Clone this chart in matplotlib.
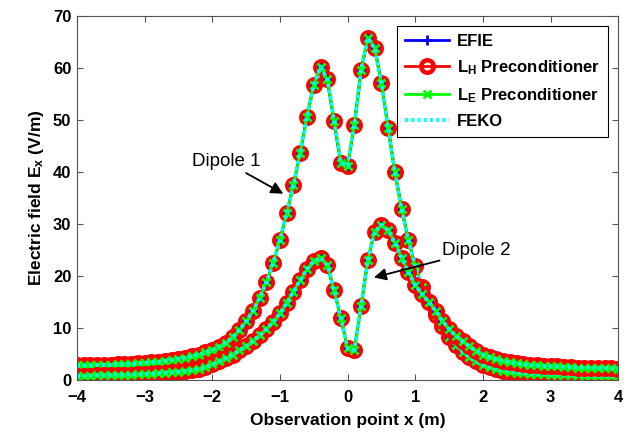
import numpy as np
import matplotlib
matplotlib.use("Agg")
import matplotlib.pyplot as plt

plt.rcParams["font.family"] = ["Liberation Sans", "DejaVu Sans"]
plt.rcParams["mathtext.fontset"] = "custom"
plt.rcParams["mathtext.rm"] = "Liberation Sans:bold"
plt.rcParams["mathtext.it"] = "Liberation Sans:bold"
plt.rcParams["mathtext.bf"] = "Liberation Sans:bold"

# observation points, -4 .. 4 m step 0.1
x_obs = np.round(np.linspace(-4, 4, 81), 2)

# dipole 1 field (V/m)
dipole1 = [
    2.8, 2.8, 2.8, 2.9, 2.9, 2.9, 3.0, 3.0, 3.1, 3.2,      # -4.0 .. -3.1
    3.3, 3.4, 3.5, 3.7, 3.9, 4.1, 4.3, 4.6, 4.9, 5.3,      # -3.0 .. -2.1
    5.8, 6.4, 7.2, 8.2, 9.6, 11.3, 13.3, 15.8, 18.8, 22.5,  # -2.0 .. -1.1
    26.9, 32.0, 37.5, 43.7, 50.6, 56.7, 60.1, 57.8, 49.8, 41.7,  # -1.0 .. -0.1
    41.2,                                                   # 0.0
    49.0, 59.6, 65.7, 63.8, 57.1, 48.4, 39.9, 32.8, 26.9, 21.9,  # 0.1 .. 1.0
    17.9, 15.0, 12.5, 10.3, 8.2, 6.7, 5.4, 4.4, 3.6, 2.9,  # 1.1 .. 2.0
    2.5, 2.1, 1.8, 1.6, 1.4, 1.3, 1.2, 1.1, 1.1, 1.0,      # 2.1 .. 3.0
    1.0, 0.95, 0.9, 0.9, 0.85, 0.8, 0.8, 0.75, 0.75, 0.7,  # 3.1 .. 4.0
]

# dipole 2 field (V/m)
dipole2 = [
    0.8, 0.8, 0.85, 0.9, 0.9, 0.95, 1.0, 1.0, 1.05, 1.1,   # -4.0 .. -3.1
    1.15, 1.2, 1.3, 1.4, 1.5, 1.6, 1.75, 1.9, 2.1, 2.5,    # -3.0 .. -2.1
    3.0, 3.6, 4.2, 4.9, 5.7, 6.5, 7.5, 8.6, 9.8, 11.2,     # -2.0 .. -1.1
    12.8, 14.8, 17.0, 19.2, 21.3, 22.9, 23.4, 22.1, 17.3, 11.9,  # -1.0 .. -0.1
    6.1,                                                    # 0.0
    5.8, 14.2, 23.1, 28.5, 29.8, 28.8, 26.4, 23.5, 20.7, 18.3,  # 0.1 .. 1.0
    16.5, 15.0, 13.3, 11.4, 9.8, 8.5, 7.4, 6.5, 5.6, 4.9,  # 1.1 .. 2.0
    4.4, 4.0, 3.7, 3.4, 3.2, 3.0, 2.9, 2.8, 2.7, 2.6,      # 2.1 .. 3.0
    2.6, 2.5, 2.5, 2.4, 2.4, 2.4, 2.3, 2.3, 2.3, 2.2,      # 3.1 .. 4.0
]

x_ticks = [-4, -3, -2, -1, 0, 1, 2, 3, 4]
y_ticks = [0, 10, 20, 30, 40, 50, 60, 70]

fig = plt.figure(figsize=(6.36, 4.33), dpi=100)
ax = fig.add_axes([0.121, 0.1224, 0.851, 0.8413])

for k, ys in enumerate([dipole1, dipole2]):
    lab = (lambda s: s) if k == 0 else (lambda s: "_nolegend_")
    ax.plot(x_obs, ys, color="#0000FF", lw=2, marker="+", ms=7, mew=2,
            label=lab("EFIE"))
    ax.plot(x_obs, ys, color="#FF0000", lw=2, marker="o", ms=9, mew=3.2,
            mfc="none", label=lab("$\\mathregular{L_H}$ Preconditioner"))
    ax.plot(x_obs, ys, color="#00FF00", lw=2, marker="x", ms=5.5, mew=2,
            label=lab("$\\mathregular{L_E}$ Preconditioner"))
    ax.plot(x_obs, ys, color="#00FFFF", lw=2.8, ls=(0, (0.8, 0.8)),
            label=lab("FEKO"))

ax.set_xlim(-4, 4)
ax.set_ylim(0, 70)
ax.set_xticks(x_ticks)
ax.set_yticks(y_ticks)
ax.tick_params(direction="in", top=True, right=True, length=4, labelsize=12,
               width=0.8, colors="#555555", labelcolor="black")
ax.tick_params(axis="x", pad=7)
ax.tick_params(axis="y", pad=4)
for t in ax.get_xticklabels() + ax.get_yticklabels():
    t.set_fontweight("bold")
for s in ax.spines.values():
    s.set_color("#555555")

ax.set_xlabel("Observation point x (m)", fontsize=12.5, fontweight="bold",
              labelpad=6)
ax.set_ylabel("Electric field $\\mathregular{E_x}$ (V/m)", fontsize=12.5,
              fontweight="bold", labelpad=5)

ax.annotate("Dipole 1", xy=(-0.95, 35.8), xytext=(-1.8, 40.3), fontsize=13.5,
            ha="center", va="bottom",
            arrowprops=dict(arrowstyle="-|>", color="black", lw=1.3,
                            mutation_scale=18, shrinkA=0, shrinkB=0))
ax.annotate("Dipole 2", xy=(0.39, 19.7), xytext=(1.4, 24.8), fontsize=13.5,
            ha="left", va="center",
            arrowprops=dict(arrowstyle="-|>", color="black", lw=1.3,
                            mutation_scale=18, shrinkA=0, shrinkB=0))

leg = ax.legend(loc="upper right", fontsize=12, handlelength=2.6,
                fancybox=False, edgecolor="black", framealpha=1,
                borderaxespad=0.6, labelspacing=0.55, borderpad=0.5,
                handletextpad=0.5)
leg.get_frame().set_linewidth(0.8)
for t in leg.get_texts():
    t.set_fontweight("bold")

fig.savefig("out.png", dpi=100)
